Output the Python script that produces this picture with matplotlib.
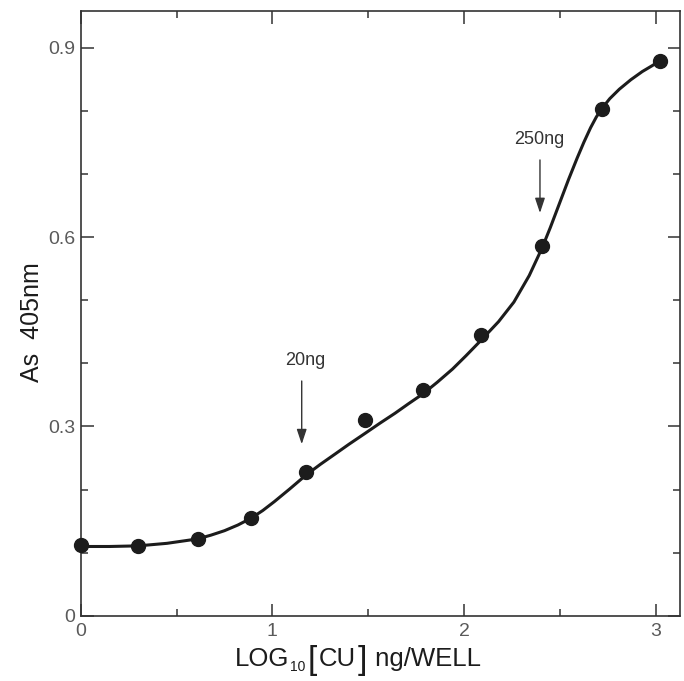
import matplotlib
matplotlib.use("Agg")
import matplotlib.pyplot as plt
from matplotlib.ticker import MultipleLocator

# ---- data ----
log_conc = [0.0, 0.30, 0.613, 0.887, 1.175, 1.483, 1.787, 2.087, 2.406, 2.718, 3.022]
absorb = [0.113, 0.111, 0.122, 0.155, 0.228, 0.310, 0.357, 0.445, 0.585, 0.803, 0.879]

curve_x = [0.0, 0.15, 0.30, 0.45, 0.61, 0.68, 0.75, 0.82, 0.89, 0.95, 1.01, 1.09, 1.175,
           1.25, 1.33, 1.40, 1.483, 1.56, 1.64, 1.71, 1.787, 1.86, 1.94, 2.01, 2.087,
           2.18, 2.26, 2.34, 2.406, 2.45, 2.50, 2.545, 2.59, 2.625, 2.66, 2.69, 2.718,
           2.76, 2.81, 2.87, 2.93, 2.98, 3.022]
curve_y = [0.110, 0.110, 0.111, 0.115, 0.122, 0.128, 0.135, 0.144, 0.155, 0.167, 0.181, 0.201, 0.223,
           0.240, 0.257, 0.272, 0.289, 0.305, 0.321, 0.336, 0.352, 0.370, 0.391, 0.412, 0.436,
           0.466, 0.497, 0.539, 0.582, 0.615, 0.655, 0.691, 0.725, 0.750, 0.773, 0.790, 0.803,
           0.819, 0.834, 0.849, 0.862, 0.871, 0.879]

annotations = ["20ng", "250ng"]
arrow_x = [1.153, 2.396]
arrow_top = [0.372, 0.722]
arrow_tip = [0.272, 0.638]
label_xy = [(1.17, 0.405), (2.39, 0.754)]

x_major = [0, 1, 2, 3]
y_major = [0, 0.3, 0.6, 0.9]
y_labels = ["0", "0.3", "0.6", "0.9"]

plt.rcParams['font.family'] = ['Liberation Sans', 'DejaVu Sans']

fig = plt.figure(figsize=(6.84, 6.81), dpi=100)
ax = fig.add_axes([0.118, 0.0955, 0.876, 0.8885])

ink = '#1c1c1c'
ax.plot(curve_x, curve_y, color=ink, lw=2.2, solid_capstyle='round',
        solid_joinstyle='round', zorder=2)
ax.plot(log_conc, absorb, 'o', color=ink, ms=10, zorder=3, clip_on=False)

for txt, ax_x, top, tip, (lx, ly) in zip(annotations, arrow_x, arrow_top, arrow_tip, label_xy):
    ax.annotate('', xy=(ax_x, tip), xytext=(ax_x, top),
                arrowprops=dict(arrowstyle='-|>,head_length=0.9,head_width=0.3',
                                color='#333333', lw=1.0, shrinkA=0, shrinkB=0))
    ax.text(lx, ly, txt, ha='center', va='center', fontsize=13, color='#333333')

ax.set_xlim(0, 3.126)
ax.set_ylim(0, 0.958)

ax.set_xticks(x_major)
ax.set_xticklabels([str(v) for v in x_major])
ax.xaxis.set_minor_locator(MultipleLocator(0.5))
ax.set_yticks(y_major)
ax.set_yticklabels(y_labels)
ax.yaxis.set_minor_locator(MultipleLocator(0.1))

ax.tick_params(which='both', direction='in', top=True, right=True, color='#333333',
               labelcolor='#5a5a5a', labelsize=14)
ax.tick_params(which='major', length=9, width=1.1)
ax.tick_params(which='minor', length=5, width=1.1)
ax.tick_params(axis='x', which='major', pad=5)
ax.tick_params(axis='y', which='major', pad=4)

for s in ax.spines.values():
    s.set_linewidth(1.2)
    s.set_color('#333333')

ax.set_ylabel('As  405nm', fontsize=18, color=ink)
ax.yaxis.set_label_coords(-0.062, 0.486)

# x-axis title built from pieces (tall brackets, subscript)
renderer = fig.canvas.get_renderer()
pieces = [('LOG', 18.5, 0), ('10', 10, -5), ('[', 24, -3), ('CU', 18.5, 0),
          (']', 24, -3), (' ng/WELL', 18.5, 0)]
gaps = [0, 1, 2, 2, 2, 0]
x_px = 0.2575 * 599.3 + 80.7
base_px = 681 - 666
for (txt, fs, dy), g in zip(pieces, gaps):
    x_px += g
    t = fig.text(x_px / 684, (base_px + dy) / 681, txt, fontsize=fs, color=ink,
                 ha='left', va='baseline')
    bb = t.get_window_extent(renderer)
    x_px = bb.x1

fig.savefig('out.png', dpi=100)
